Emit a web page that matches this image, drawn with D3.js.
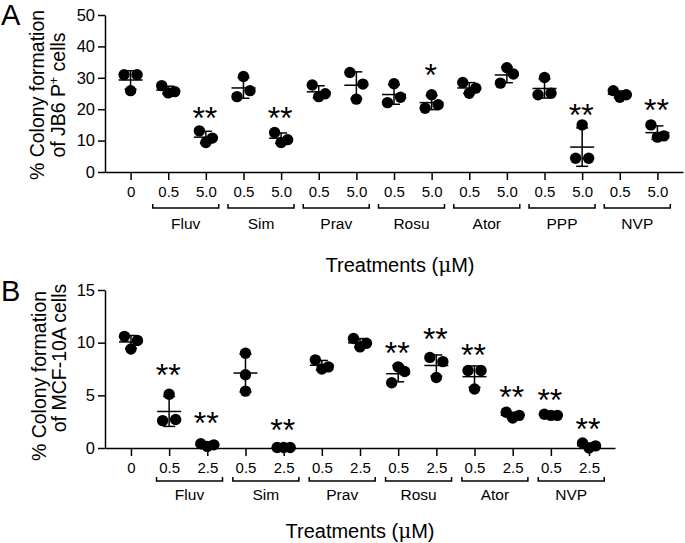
<!DOCTYPE html>
<html><head><meta charset="utf-8">
<script src="https://cdn.jsdelivr.net/npm/d3@7"></script>
<style>
html,body{margin:0;padding:0;background:#fff;}
svg text{font-family:"Liberation Sans",Arial,Helvetica,sans-serif;fill:#000;}
</style></head>
<body>
<svg id="chart" width="685" height="543"></svg>
<script>
// ---------- Panel A data ----------
const catsA = ["0","0.5","5.0","0.5","5.0","0.5","5.0","0.5","5.0","0.5","5.0","0.5","5.0","0.5","5.0"];
const groupsA = ["Fluv","Sim","Prav","Rosu","Ator","PPP","NVP"];
const valuesA = [
  [31.0, 25.9, 31.0],
  [27.5, 25.2, 25.6],
  [13.1, 9.4, 10.8],
  [24.0, 30.4, 25.9],
  [12.6, 9.4, 10.3],
  [27.7, 24.0, 24.9],
  [31.7, 23.2, 28.0],
  [22.1, 28.1, 23.8],
  [20.3, 24.6, 21.4],
  [28.5, 25.1, 26.7],
  [28.3, 33.2, 31.2],
  [24.6, 30.1, 25.1],
  [4.4, 15.0, 4.4],
  [25.9, 23.8, 24.6],
  [15.0, 11.1, 11.5]
];
const sigA = ["","","**","","**","","","","*","","","","**","","**"];
const sigPosA = [0,0,19.3,0,19.3,0,0,0,33.1,0,0,0,20.3,0,21.9];
const yTicksA = [0,10,20,30,40,50];

// ---------- Panel B data ----------
const catsB = ["0","0.5","2.5","0.5","2.5","0.5","2.5","0.5","2.5","0.5","2.5","0.5","2.5"];
const groupsB = ["Fluv","Sim","Prav","Rosu","Ator","NVP"];
const valuesB = [
  [10.6, 9.4, 10.2],
  [2.6, 5.1, 2.7],
  [0.4, 0.15, 0.3],
  [9.0, 6.95, 5.4],
  [0.05, 0.05, 0.05],
  [8.37, 7.5, 7.7],
  [10.4, 9.6, 9.95],
  [6.2, 7.7, 7.26],
  [8.6, 6.7, 8.2],
  [7.36, 5.6, 7.36],
  [3.4, 2.85, 3.1],
  [3.2, 3.1, 3.1],
  [0.47, 0.0, 0.2]
];
const sigB = ["","**","**","","**","","","**","**","**","**","**","**"];
const sigPosB = [0,7.6,3.0,0,2.4,0,0,9.7,11.05,9.5,5.5,5.2,2.5];
const yTicksB = [0,5,10,15];

const svg = d3.select("#chart");

function panel(cfg){
  const g = svg.append("g");
  const x = d3.scalePoint().domain(d3.range(cfg.cats.length)).range([cfg.left, cfg.right]).padding(0.68);
  const y = d3.scaleLinear().domain([0, cfg.ymax]).range([cfg.bottom, cfg.top]);

  // y axis
  const ya = g.append("g").attr("transform", `translate(${cfg.left},0)`)
    .call(d3.axisLeft(y).tickValues(cfg.yTicks).tickSize(7).tickSizeOuter(0).tickPadding(3));
  // x axis
  const xa = g.append("g").attr("transform", `translate(0,${cfg.bottom})`)
    .call(d3.axisBottom(x).tickFormat(i => cfg.cats[i]).tickSize(8).tickSizeOuter(0).tickPadding(6));
  [ya, xa].forEach(a => {
    a.selectAll("path,line").attr("stroke", "#000").attr("stroke-width", 1.5);
    a.selectAll("text").style("font-size", "15px").attr("fill", "#000");
  });
  ya.selectAll("text").style("font-size", "16.5px");

  // brackets and group names
  cfg.groups.forEach((name, gi) => {
    const i1 = 1 + gi*2, i2 = 2 + gi*2;
    const cx = (x(i1) + x(i2))/2 + cfg.brShift;
    const by = cfg.bottom + cfg.brDy;
    g.append("path")
      .attr("d", `M${cx-33},${by-4}V${by}H${cx+33}V${by-4}`)
      .attr("fill","none").attr("stroke","#000").attr("stroke-width",1.5);
    g.append("text").attr("x", cx).attr("y", by + cfg.nameDy)
      .attr("text-anchor","middle").style("font-size","15.5px").text(name);
  });

  // data: error bars, mean lines, dots
  const r = 5.7;
  cfg.values.forEach((vals, i) => {
    const cx = x(i);
    const mean = d3.mean(vals), sd = d3.deviation(vals);
    vals.forEach((v, k) => {
      const overlaps = vals.some((w, j) => j !== k && Math.abs(y(v) - y(w)) < 14);
      const dx = overlaps ? (k - 1) * 6.5 : 0;
      g.append("circle").attr("cx", cx + dx).attr("cy", y(v)).attr("r", r).attr("fill", "#000");
    });
    const lo = Math.max(0, mean - sd), hi = mean + sd;
    g.append("line").attr("x1", cx).attr("x2", cx).attr("y1", y(lo)).attr("y2", y(hi))
      .attr("stroke","#000").attr("stroke-width",1.5);
    [lo, hi].forEach(v => g.append("line").attr("x1", cx-6).attr("x2", cx+6).attr("y1", y(v)).attr("y2", y(v))
      .attr("stroke","#000").attr("stroke-width",1.5));
    g.append("line").attr("x1", cx-12).attr("x2", cx+12).attr("y1", y(mean)).attr("y2", y(mean))
      .attr("stroke","#000").attr("stroke-width",1.5);
    if (cfg.sig[i]) {
      g.append("text").attr("x", cx - 1).attr("y", y(cfg.sigPos[i]) + 0.56*32)
        .attr("text-anchor","middle").style("font-size","32px").text(cfg.sig[i]);
    }
  });

  // y label (two lines, rotated)
  g.append("text").attr("transform", `translate(${cfg.yl1x},${cfg.yl1c}) rotate(-90)`)
    .attr("text-anchor","middle").style("font-size","19.5px").text("% Colony formation");
  const yl2 = g.append("text").attr("transform", `translate(${cfg.yl2x},${cfg.yl2c}) rotate(-90)`)
    .attr("text-anchor","middle").style("font-size","19.5px");
  cfg.yl2(yl2);

  // x title
  const xt = g.append("text").attr("x", (cfg.left + cfg.right)/2 + cfg.xtShift).attr("y", cfg.xtY)
    .attr("text-anchor","middle").style("font-size","20px");
  xt.append("tspan").text("Treatments (");
  xt.append("tspan").style("font-family","'DejaVu Serif',serif").text("μ");
  xt.append("tspan").text("M)");

  // panel letter
  g.append("text").attr("x", 1).attr("y", cfg.letterY).style("font-size","29px").text(cfg.letter);
}

panel({
  cats: catsA, groups: groupsA, values: valuesA, sig: sigA, sigPos: sigPosA, yTicks: yTicksA,
  ymax: 50, left: 105, right: 683, top: 15, bottom: 172,
  brDy: 36, nameDy: 21, brShift: -1.3,
  yl1x: 44, yl1c: 95, yl2x: 65, yl2c: 95,
  yl2: t => { t.append("tspan").text("of JB6 P");
              t.append("tspan").attr("baseline-shift","super").style("font-size","12px").text("+");
              t.append("tspan").text(" cells"); },
  xtShift: 6, xtY: 272, letter: "A", letterY: 25
});

panel({
  cats: catsB, groups: groupsB, values: valuesB, sig: sigB, sigPos: sigPosB, yTicks: yTicksB,
  ymax: 15, left: 105, right: 615, top: 290, bottom: 448,
  brDy: 33, nameDy: 19, brShift: 1.3,
  yl1x: 46, yl1c: 376, yl2x: 66, yl2c: 358,
  yl2: t => { t.text("of MCF-10A cells"); },
  xtShift: 0, xtY: 538, letter: "B", letterY: 301
});
</script>
</body></html>
